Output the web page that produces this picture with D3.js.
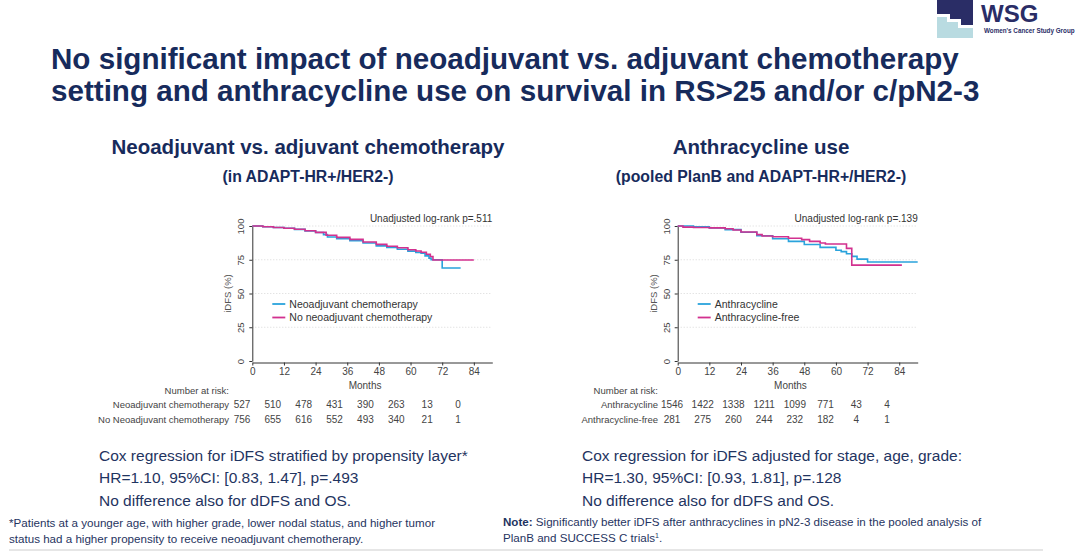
<!DOCTYPE html>
<html>
<head>
<meta charset="utf-8">
<script src="https://cdn.jsdelivr.net/npm/d3@7"></script>
<style>
  body { margin: 0; background: #fff; }
  svg { display: block; font-family: "Liberation Sans", Arial, sans-serif; }
</style>
</head>
<body>
<svg id="slide" width="1080" height="555"></svg>
<script>
// tick labels
var monthTicks = [0, 12, 24, 36, 48, 60, 72, 84];
var pctTicks = [0, 25, 50, 75, 100];

// left panel: neoadjuvant vs adjuvant
var neoMonths = [0, 4, 8, 12, 16, 20, 24, 27, 28.5, 32, 37, 42, 47, 51, 55, 59, 62, 64, 65.5, 67, 67.8, 72, 79];
var neoSurv   = [100, 99.4, 98.9, 98.3, 97.5, 96.4, 95.2, 93.6, 91.8, 90.6, 89.2, 87.4, 85.3, 84.1, 82.8, 81.4, 80.4, 79.8, 77.9, 76.2, 75, 68.9, 68.9];
var noNeoMonths = [0, 4, 8, 12, 16, 20, 24, 28, 32, 37, 42, 47, 51, 55, 59, 62, 64, 66, 67.5, 68.5, 84];
var noNeoSurv   = [100, 99.5, 98.9, 98.3, 97.6, 96.5, 95.3, 93.2, 91.6, 90.1, 88.2, 86.4, 85.0, 83.9, 82.4, 81.5, 80.6, 79.1, 77.4, 74.8, 74.8];
var neoRisk   = [527, 510, 478, 431, 390, 263, 13, 0];
var noNeoRisk = [756, 655, 616, 552, 493, 340, 21, 1];

// right panel: anthracycline use
var anthMonths = [0, 6, 12, 18, 24, 30, 36, 42, 48, 54, 60, 62, 64, 66, 68, 72, 91];
var anthSurv   = [100, 99.5, 98.6, 97.3, 95.4, 92.8, 90.6, 88.6, 86.3, 84.2, 82.0, 81.0, 79.5, 77.5, 75.5, 73.3, 73.3];
var freeMonths = [0, 2, 6, 12, 18, 21, 24, 30, 32, 36, 42, 47, 50, 54, 56, 64, 66, 85];
var freeSurv   = [100, 99.2, 98.9, 98.6, 98.0, 97.0, 95.6, 93.6, 92.6, 92.0, 90.9, 89.9, 88.6, 87.4, 86.7, 83.4, 71.0, 71.0];
var anthRisk = [1546, 1422, 1338, 1211, 1099, 771, 43, 4];
var freeRisk = [281, 275, 260, 244, 232, 182, 4, 1];

var navy = "#172b5c",
    blue = "#2aa3dc",
    magenta = "#d2318f",
    grey = "#333";

var svg = d3.select("#slide");

// title
svg.selectAll("text.title")
   .data(["No significant impact of neoadjuvant vs. adjuvant chemotherapy",
          "setting and anthracycline use on survival in RS>25 and/or c/pN2-3"])
   .enter()
   .append("text")
      .attr("class", "title")
      .attr("x", 51)
      .attr("y", function(d, i) { return 69 + i * 32; })
      .attr("fill", navy)
      .attr("font-size", "29.6px")
      .attr("font-weight", "bold")
      .text(function(d) { return d; });

// logo
var logo = svg.append("g");
logo.append("polygon")
    .attr("points", "937,0 973,0 973,25 961,25 961,19 950,19 950,14 937,14")
    .attr("fill", "#2a2d66");
logo.append("polygon")
    .attr("points", "937,17 947,17 947,22 958,22 958,28 973,28 973,38 937,38")
    .attr("fill", "#b9dbe1");
logo.append("text")
    .attr("x", 981).attr("y", 22)
    .attr("fill", "#2a2d66")
    .attr("font-size", "24px").attr("font-weight", "bold")
    .text("WSG");
logo.append("text")
    .attr("x", 984).attr("y", 33)
    .attr("fill", "#2a2d66")
    .attr("font-size", "6.3px").attr("font-weight", "bold")
    .text("Women's Cancer Study Group");

function stepData(months, surv) {
    return months.map(function(m, i) { return [m, surv[i]]; });
}

// draws one Kaplan-Meier panel
function drawKM(p) {
    var x0 = p.left, x1 = p.left + 240,
        yTop = 226, yBot = 361;

    var x = d3.scaleLinear().domain([0, 91]).range([x0, x1]);
    var y = d3.scaleLinear().domain([0, 100]).range([yBot, yTop]);
    var xRisk = d3.scaleLinear().domain([0, 84]).range([p.riskLeft, p.riskRight]);

    var g = svg.append("g");

    g.append("text")
        .attr("x", p.center).attr("y", 154)
        .attr("text-anchor", "middle")
        .attr("fill", navy).attr("font-size", "20.5px").attr("font-weight", "bold")
        .text(p.heading);
    g.append("text")
        .attr("x", p.center).attr("y", 182)
        .attr("text-anchor", "middle")
        .attr("fill", navy).attr("font-size", "15.8px").attr("font-weight", "bold")
        .text(p.subheading);

    // grid
    g.selectAll("line.grid")
        .data(pctTicks.slice(1))
        .enter()
        .append("line")
            .attr("class", "grid")
            .attr("x1", x0).attr("x2", x1)
            .attr("y1", function(d) { return y(d); })
            .attr("y2", function(d) { return y(d); })
            .attr("stroke", "#d8d8d8")
            .attr("stroke-dasharray", "1,2");

    var xAxis = g.append("g")
        .attr("transform", "translate(0," + (yBot + 1.5) + ")")
        .call(d3.axisBottom(x).tickValues(monthTicks).tickSize(3).tickSizeOuter(0));
    xAxis.select(".domain").attr("stroke", grey);
    xAxis.selectAll(".tick line").attr("stroke", grey);
    xAxis.selectAll(".tick text")
        .attr("fill", "#444").attr("font-size", "10px").attr("dy", "0.6em")
        .attr("font-family", "Liberation Sans, Arial, sans-serif");

    var yAxis = g.append("g")
        .attr("transform", "translate(" + x0 + ",0)")
        .call(d3.axisLeft(y).tickValues(pctTicks).tickSize(3).tickSizeOuter(0));
    yAxis.select(".domain").attr("stroke", grey);
    yAxis.selectAll(".tick line").attr("stroke", grey);
    yAxis.selectAll(".tick text")
        .attr("fill", "#444").attr("font-size", "9.5px")
        .attr("font-family", "Liberation Sans, Arial, sans-serif")
        .attr("x", null).attr("dy", null)
        .attr("text-anchor", "middle")
        .attr("transform", "translate(-8,0) rotate(-90)");

    g.append("text")
        .attr("transform", "translate(" + (x0 - 21) + "," + y(50) + ") rotate(-90)")
        .attr("text-anchor", "middle")
        .attr("fill", "#555").attr("font-size", "9.5px")
        .text("iDFS (%)");

    g.append("text")
        .attr("x", (x(0) + x(84)) / 2 + 2).attr("y", 389)
        .attr("text-anchor", "middle")
        .attr("fill", "#444").attr("font-size", "10px")
        .text("Months");

    g.append("text")
        .attr("x", x1).attr("y", 222)
        .attr("text-anchor", "end")
        .attr("fill", grey).attr("font-size", "10px")
        .text(p.pval);

    var line = d3.line()
        .x(function(d) { return x(d[0]); })
        .y(function(d) { return y(d[1]); })
        .curve(d3.curveStepAfter);

    g.selectAll("path.km")
        .data(p.series)
        .enter()
        .append("path")
            .attr("class", "km")
            .attr("d", function(d) { return line(d.pts); })
            .attr("fill", "none")
            .attr("stroke", function(d) { return d.color; })
            .attr("stroke-width", 1.6);

    // legend
    var leg = g.selectAll("g.leg")
        .data(p.series)
        .enter()
        .append("g")
            .attr("class", "leg")
            .attr("transform", function(d, i) { return "translate(" + (x0 + 20) + "," + (304 + i * 13.5) + ")"; });
    leg.append("line")
        .attr("x1", 0).attr("x2", 13)
        .attr("stroke", function(d) { return d.color; })
        .attr("stroke-width", 1.8);
    leg.append("text")
        .attr("x", 17).attr("y", 3.5)
        .attr("fill", grey).attr("font-size", "10.5px")
        .text(function(d) { return d.label; });

    // numbers at risk
    g.append("text")
        .attr("x", p.riskLabelX).attr("y", 394)
        .attr("text-anchor", "end")
        .attr("fill", "#444").attr("font-size", "9.5px")
        .text("Number at risk:");

    p.series.forEach(function(s, i) {
        var ry = 408 + i * 14.5;
        g.append("text")
            .attr("x", p.riskLabelX).attr("y", ry)
            .attr("text-anchor", "end")
            .attr("fill", "#444").attr("font-size", "9.5px")
            .text(s.riskLabel);
        g.selectAll("text.risk" + i)
            .data(s.risk)
            .enter()
            .append("text")
                .attr("class", "risk" + i)
                .attr("x", function(d, j) { return xRisk(monthTicks[j]); })
                .attr("y", ry)
                .attr("text-anchor", "middle")
                .attr("fill", "#444").attr("font-size", "10px")
                .text(function(d) { return d; });
    });

    // cox text
    g.selectAll("text.cox")
        .data(p.cox)
        .enter()
        .append("text")
            .attr("class", "cox")
            .attr("x", p.coxX)
            .attr("y", function(d, i) { return 461 + i * 22.3; })
            .attr("fill", "#1f3461").attr("font-size", "15.5px")
            .text(function(d) { return d; });
}

drawKM({
    left: 252.3, center: 308,
    heading: "Neoadjuvant vs. adjuvant chemotherapy",
    subheading: "(in ADAPT-HR+/HER2-)",
    pval: "Unadjusted log-rank p=.511",
    riskLeft: 242, riskRight: 458, riskLabelX: 229,
    coxX: 99,
    cox: ["Cox regression for iDFS stratified by propensity layer*",
          "HR=1.10, 95%CI: [0.83, 1.47], p=.493",
          "No difference also for dDFS and OS."],
    series: [
        { label: "Neoadjuvant chemotherapy", riskLabel: "Neoadjuvant chemotherapy", color: blue, pts: stepData(neoMonths, neoSurv), risk: neoRisk },
        { label: "No neoadjuvant chemotherapy", riskLabel: "No Neoadjuvant chemotherapy", color: magenta, pts: stepData(noNeoMonths, noNeoSurv), risk: noNeoRisk }
    ]
});

drawKM({
    left: 677.7, center: 761,
    heading: "Anthracycline use",
    subheading: "(pooled PlanB and ADAPT-HR+/HER2-)",
    pval: "Unadjusted log-rank p=.139",
    riskLeft: 672, riskRight: 887, riskLabelX: 658,
    coxX: 582,
    cox: ["Cox regression for iDFS adjusted for stage, age, grade:",
          "HR=1.30, 95%CI: [0.93, 1.81], p=.128",
          "No difference also for dDFS and OS."],
    series: [
        { label: "Anthracycline", riskLabel: "Anthracycline", color: blue, pts: stepData(anthMonths, anthSurv), risk: anthRisk },
        { label: "Anthracycline-free", riskLabel: "Anthracycline-free", color: magenta, pts: stepData(freeMonths, freeSurv), risk: freeRisk }
    ]
});

// footnotes
svg.selectAll("text.fnl")
   .data(["*Patients at a younger age, with higher grade, lower nodal status, and higher tumor",
          "status had a higher propensity to receive neoadjuvant chemotherapy."])
   .enter()
   .append("text")
      .attr("class", "fnl")
      .attr("x", 9)
      .attr("y", function(d, i) { return 527 + i * 16; })
      .attr("fill", "#1f3461").attr("font-size", "11.6px")
      .text(function(d) { return d; });

var note = svg.append("text")
    .attr("x", 503).attr("y", 526)
    .attr("fill", "#1f3461").attr("font-size", "11.6px");
note.append("tspan").attr("font-weight", "bold").text("Note:");
note.append("tspan").text(" Significantly better iDFS after anthracyclines in pN2-3 disease in the pooled analysis of");
var note2 = svg.append("text")
    .attr("x", 503).attr("y", 542)
    .attr("fill", "#1f3461").attr("font-size", "11.6px");
note2.append("tspan").text("PlanB and SUCCESS C trials");
note2.append("tspan").attr("font-size", "7px").attr("dy", "-4").text("1");
note2.append("tspan").attr("dy", "4").text(".");

svg.append("line")
    .attr("x1", 9).attr("x2", 1043)
    .attr("y1", 550).attr("y2", 550)
    .attr("stroke", "#e6e6e6").attr("stroke-width", 2);
</script>
</body>
</html>
